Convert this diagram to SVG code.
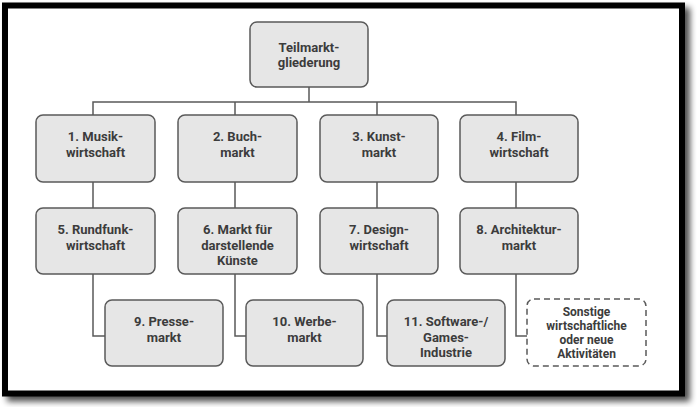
<svg xmlns="http://www.w3.org/2000/svg" width="698" height="407" viewBox="0 0 698 407">
  <defs>
    <filter id="shadow" x="-5%" y="-5%" width="115%" height="115%">
      <feGaussianBlur in="SourceAlpha" stdDeviation="3"/>
      <feOffset dx="5" dy="5" result="b"/>
      <feComponentTransfer><feFuncA type="linear" slope="0.7"/></feComponentTransfer>
      <feMerge><feMergeNode/><feMergeNode in="SourceGraphic"/></feMerge>
    </filter>
  </defs>
  <style>
    .box { fill: #e6e6e6; stroke: #5a5a5a; stroke-width: 1.5; }
    .dash { fill: #ffffff; stroke: #5a5a5a; stroke-width: 1.5; stroke-dasharray: 6 4; }
    .lbl { font-family: Roboto, "Liberation Sans", sans-serif; font-weight: 700; font-size: 13px; fill: #3c3c3c; text-anchor: middle; }
    .sm { font-size: 12px; }
    .con { fill: none; stroke: #5a5a5a; stroke-width: 1.5; }
  </style>
  <rect x="0" y="0" width="698" height="407" fill="#ffffff"/>
  <rect x="5" y="5.5" width="677" height="388" fill="#ffffff" stroke="#000000" stroke-width="6" filter="url(#shadow)"/>

  <g id="connectors">
    <path class="con" d="M309 87 V102 M93 115 V102 H516 V115 M235 102 V115 M377 102 V115"/>
    <path class="con" d="M93 182 V208 M235 182 V208 M377 182 V208 M516 182 V208"/>
    <path class="con" d="M93 274 V336 H105 M235 274 V336 H246 M377 274 V336 H387 M516 274 V336 H527"/>
  </g>

  <g id="root">
    <rect class="box" x="250" y="22" width="118" height="65" rx="7"/>
    <text class="lbl" x="309" y="51.5">Teilmarkt-</text>
    <text class="lbl" x="309" y="67">gliederung</text>
  </g>

  <g id="n1">
    <rect class="box" x="36" y="115" width="119" height="67" rx="7"/>
    <text class="lbl" x="95.5" y="141">1. Musik-</text>
    <text class="lbl" x="95.5" y="156.5">wirtschaft</text>
  </g>
  <g id="n2">
    <rect class="box" x="178" y="115" width="119" height="67" rx="7"/>
    <text class="lbl" x="237.5" y="141">2. Buch-</text>
    <text class="lbl" x="237.5" y="156.5">markt</text>
  </g>
  <g id="n3">
    <rect class="box" x="320" y="115" width="118" height="67" rx="7"/>
    <text class="lbl" x="379" y="141">3. Kunst-</text>
    <text class="lbl" x="379" y="156.5">markt</text>
  </g>
  <g id="n4">
    <rect class="box" x="460" y="115" width="118" height="67" rx="7"/>
    <text class="lbl" x="519" y="141">4. Film-</text>
    <text class="lbl" x="519" y="156.5">wirtschaft</text>
  </g>

  <g id="n5">
    <rect class="box" x="36" y="208" width="119" height="66" rx="7"/>
    <text class="lbl" x="95.5" y="234">5. Rundfunk-</text>
    <text class="lbl" x="95.5" y="249.5">wirtschaft</text>
  </g>
  <g id="n6">
    <rect class="box" x="178" y="208" width="119" height="66" rx="7"/>
    <text class="lbl" x="237.5" y="234">6. Markt für</text>
    <text class="lbl" x="237.5" y="249.5">darstellende</text>
    <text class="lbl" x="237.5" y="265">Künste</text>
  </g>
  <g id="n7">
    <rect class="box" x="320" y="208" width="118" height="66" rx="7"/>
    <text class="lbl" x="379" y="234">7. Design-</text>
    <text class="lbl" x="379" y="249.5">wirtschaft</text>
  </g>
  <g id="n8">
    <rect class="box" x="460" y="208" width="118" height="66" rx="7"/>
    <text class="lbl" x="519" y="234">8. Architektur-</text>
    <text class="lbl" x="519" y="249.5">markt</text>
  </g>

  <g id="n9">
    <rect class="box" x="105" y="300" width="118" height="66" rx="7"/>
    <text class="lbl" x="164" y="326">9. Presse-</text>
    <text class="lbl" x="164" y="341.5">markt</text>
  </g>
  <g id="n10">
    <rect class="box" x="246" y="300" width="117" height="66" rx="7"/>
    <text class="lbl" x="304.5" y="326">10. Werbe-</text>
    <text class="lbl" x="304.5" y="341.5">markt</text>
  </g>
  <g id="n11">
    <rect class="box" x="387" y="300" width="118" height="66" rx="7"/>
    <text class="lbl" x="446" y="326">11. Software-/</text>
    <text class="lbl" x="446" y="341.5">Games-</text>
    <text class="lbl" x="446" y="357">Industrie</text>
  </g>
  <g id="n12">
    <rect class="dash" x="527" y="299" width="119" height="67" rx="7"/>
    <text class="lbl sm" x="586.5" y="315.5">Sonstige</text>
    <text class="lbl sm" x="586.5" y="329.8">wirtschaftliche</text>
    <text class="lbl sm" x="586.5" y="344.1">oder neue</text>
    <text class="lbl sm" x="586.5" y="358.4">Aktivitäten</text>
  </g>
</svg>
